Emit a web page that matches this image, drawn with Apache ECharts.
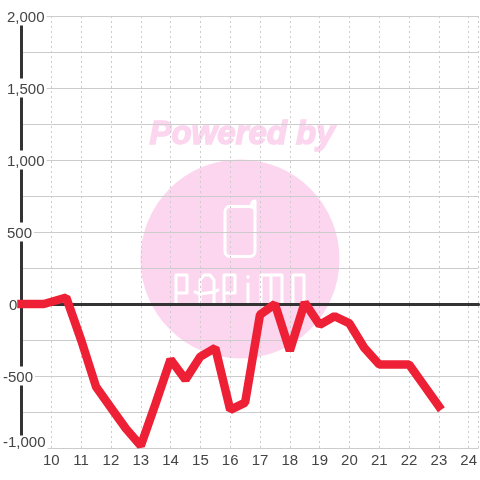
<!DOCTYPE html>
<html><head><meta charset="utf-8">
<style>html,body{margin:0;padding:0;background:#fff}#c{width:480px;height:480px}</style>
<script src="https://cdn.jsdelivr.net/npm/echarts@6/dist/echarts.min.js"></script>
</head><body><div id="c"></div>
<script>
const hours = [9, 9.75, 10.5, 11, 11.5, 12, 12.5, 13, 13.5, 14, 14.5, 15, 15.5, 16, 16.5, 17, 17.5, 18, 18.5, 19, 19.5, 20, 20.5, 21, 21.5, 22, 22.5, 23];
const values = [0, 0, 45, -250, -575, -720, -865, -985, -690, -385, -525, -365, -305, -735, -685, -75, 0, -325, 10, -145, -85, -135, -305, -420, -420, -420, -565, -710];
const hourMin = 9, hourMax = 24.33, valueMin = -1000, valueMax = 2000;
const pink = '#fbd6ee';
const font = '"Liberation Sans", Arial, sans-serif';

function stroke(points) {
  return { type: 'polyline', z: -10, shape: { points }, style: { stroke: '#fff', lineWidth: 3, fill: null, lineCap: 'round', lineJoin: 'round' } };
}
const logo = [
  { type: 'circle', z: -20, shape: { cx: 240, cy: 259, r: 99.5 }, style: { fill: pink } },
  { type: 'text', z: -20, style: { x: 242, y: 135, text: 'Powered by', align: 'center', verticalAlign: 'middle', fill: pink, stroke: pink, lineWidth: 1.5, font: 'italic bold 33px ' + font } },
  { type: 'rect', z: -10, shape: { x: 225, y: 206.5, width: 30, height: 50, r: 5 }, style: { stroke: '#fff', lineWidth: 3, fill: null } },
  stroke([[251, 207], [252.5, 202], [255, 201], [255, 212]]),
  stroke([[176, 303], [176, 275], [187, 275], [187, 293], [176, 293]]),
  stroke([[200, 303], [200, 280], [204, 275], [210, 275], [214, 280], [214, 303]]),
  stroke([[195, 292], [200, 294], [214, 292], [218, 290]]),
  stroke([[224, 303], [224, 275], [235, 275], [235, 293], [224, 293]]),
  stroke([[248, 284], [248, 303]]),
  stroke([[248, 276.5], [248, 277.5]]),
  stroke([[261, 303], [261, 275], [282, 275], [282, 303]]),
  stroke([[271, 275], [271, 303]]),
  stroke([[293, 303], [293, 275], [304, 275], [304, 303]])
];

function fmt(v) {
  if (v % 500 !== 0) return '';
  const s = Math.abs(v).toLocaleString('en-US');
  if (v === valueMin) return '{bot|-' + s + '}';
  if (v < 0) return '{neg|-' + s + '}';
  if (v === 0) return '{zero|0}';
  return '{pos|' + s + '}';
}
const base = { fontSize: 15, color: '#444', fontFamily: font, lineHeight: 8 };
const chart = echarts.init(document.getElementById('c'), null, { renderer: 'canvas' });
chart.setOption({
  animation: false,
  backgroundColor: '#fff',
  graphic: logo,
  grid: { left: 20, top: 16, width: 460, height: 432, containLabel: false },
  xAxis: [
    { type: 'value', min: hourMin, max: hourMax, interval: 1, position: 'bottom',
      axisLine: { show: false, onZero: false }, axisTick: { show: false },
      splitLine: { show: true, lineStyle: { color: '#ccc', type: [2, 3], width: 1 } },
      axisLabel: { margin: 5, fontSize: 15, color: '#444', fontFamily: font, hideOverlap: false,
        showMaxLabel: false, formatter: v => (Number.isInteger(v) && v >= 10) ? String(v) : '' } },
    { type: 'value', min: hourMin, max: hourMax, interval: 1,
      axisLine: { show: true, onZero: true, lineStyle: { color: '#333', width: 3 } },
      axisTick: { show: false }, axisLabel: { show: false }, splitLine: { show: false } }
  ],
  yAxis: {
    type: 'value', min: valueMin, max: valueMax, interval: 250,
    axisLine: { show: true, onZero: false, lineStyle: { color: '#333', width: 3 } },
    axisTick: { show: false },
    splitLine: { show: true, lineStyle: { color: '#ccc', width: 1 } },
    axisLabel: { align: 'left', margin: 18.5, hideOverlap: false, showMinLabel: true, showMaxLabel: true, formatter: fmt,
      rich: {
        pos: { ...base, backgroundColor: '#fff', padding: [4, 2, 0, 4] },
        neg: { ...base, backgroundColor: '#fff', padding: [4, 2, 0, 0] },
        zero: { ...base, padding: [4, 0, 0, 6] },
        bot: { ...base, backgroundColor: '#fff', padding: [0, 2, 10, 0] }
      } }
  },
  series: [{
    type: 'line', xAxisIndex: 0, yAxisIndex: 0, showSymbol: false, symbol: 'none', clip: false,
    data: hours.map((h, i) => [h, values[i]]),
    lineStyle: { color: '#ee2036', width: 8.5, cap: 'square', join: 'bevel' }
  }]
});
</script></body></html>
